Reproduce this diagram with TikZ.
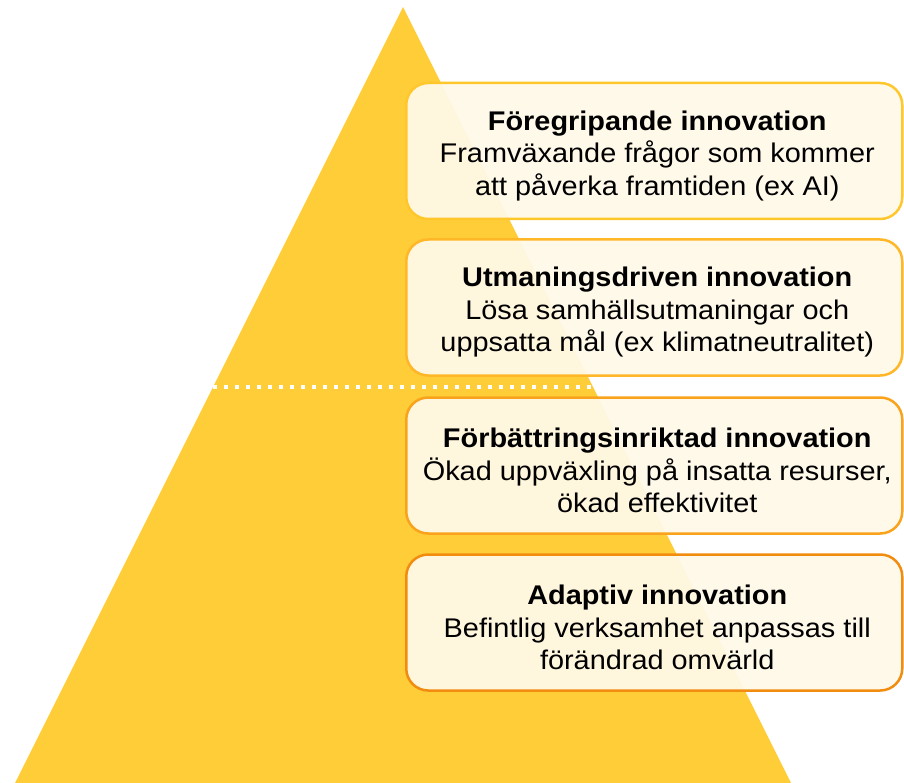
\documentclass[tikz,border=0pt]{standalone}
\usepackage{fontspec}
\setmainfont{Liberation Sans}[FakeStretch=1.07]
\definecolor{pyryellow}{RGB}{255,205,56}
\definecolor{boxfill}{RGB}{255,249,233}
\definecolor{rimA}{RGB}{255,199,44}
\definecolor{rimB}{RGB}{255,182,39}
\definecolor{rimC}{RGB}{249,162,27}
\definecolor{rimD}{RGB}{242,140,15}
\tikzset{lvl/.style={draw=#1,fill=boxfill,fill opacity=0.94,line width=2.5pt,rounded corners=22pt,
	minimum width=496pt,minimum height=136pt,inner sep=0pt},
	lvltext/.style={inner sep=0pt,align=center,font=\fontsize{27}{32.5}\selectfont}}
\begin{document}
\begin{tikzpicture}[x=1pt,y=-1pt]
	\useasboundingbox (0,0) rectangle (904,783);
	\fill[pyryellow] (403,7)--(15,783)--(791,783)--cycle;
	\coordinate (split west) at (213,386.5);
	\coordinate (split east) at (596,386.5);
	\draw[white,line width=4pt,dash pattern=on 4pt off 7pt] (split west)--(split east);
	\node[lvl=rimA] (foregrip) at (654.25,151) {};
	\node[lvl=rimB] (utmaning) at (654.25,307.5) {};
	\node[lvl=rimC] (forbattr) at (654.25,465.5) {};
	\node[lvl=rimD] (adaptiv) at (654.25,622.5) {};
	\node[lvltext] (foregrip text) at ([shift={(3,5)}]foregrip.center) {\textbf{Föregripande innovation}\\Framväxande frågor som kommer\\att påverka framtiden (ex AI)};
	\node[lvltext] (utmaning text) at ([shift={(3,5)}]utmaning.center) {\textbf{Utmaningsdriven innovation}\\Lösa samhällsutmaningar och\\uppsatta mål (ex klimatneutralitet)};
	\node[lvltext] (forbattr text) at ([shift={(3,5)}]forbattr.center) {\textbf{Förbättringsinriktad innovation}\\Ökad uppväxling på insatta resurser,\\ökad effektivitet};
	\node[lvltext] (adaptiv text) at ([shift={(3,5)}]adaptiv.center) {\textbf{Adaptiv innovation}\\Befintlig verksamhet anpassas till\\förändrad omvärld};
\end{tikzpicture}
\end{document}
